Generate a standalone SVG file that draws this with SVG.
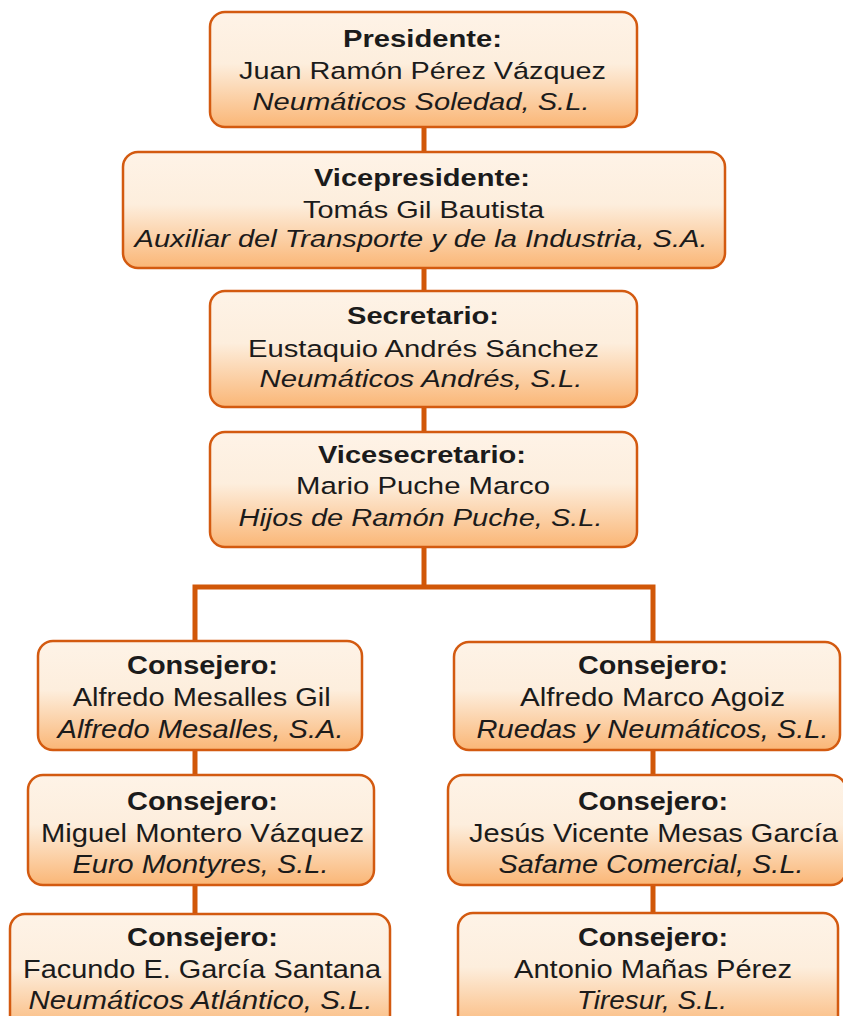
<svg xmlns="http://www.w3.org/2000/svg" width="843" height="1016" viewBox="0 0 843 1016">
  <defs>
    <linearGradient id="fillGrad" x1="0" y1="0" x2="0" y2="1">
      <stop offset="0" stop-color="#fef3e7"/>
      <stop offset="0.45" stop-color="#fdeedd"/>
      <stop offset="1" stop-color="#fab676"/>
    </linearGradient>
    <style>
      .box { fill: url(#fillGrad); stroke: #d35a10; stroke-width: 2.5; }
      .conn { fill: none; stroke: #d15708; stroke-width: 5; stroke-linejoin: miter; }
      text { font-family: "Liberation Sans", Arial, sans-serif; fill: #1b1b1b; text-anchor: middle; }
      .t { font-size: 24.5px; }
      .b { font-size: 26.5px; }
      .hd { font-weight: bold; }
      .it { font-style: italic; }
    </style>
  </defs>
  <rect width="843" height="1016" fill="#ffffff"/>

  <g id="connectors">
    <path class="conn" d="M424 128 V587"/>
    <path class="conn" d="M195 641 V587 H653 V641"/>
    <path class="conn" d="M195 750 V914"/>
    <path class="conn" d="M653 750 V913"/>
  </g>

  <g id="presidente">
    <rect class="box" x="210" y="12" width="427" height="115" rx="15"/>
    <text class="t hd" x="422.5" y="47" textLength="159" lengthAdjust="spacingAndGlyphs">Presidente:</text>
    <text class="t" x="422.5" y="79" textLength="367" lengthAdjust="spacingAndGlyphs">Juan Ramón Pérez Vázquez</text>
    <text class="t it" x="421" y="110" textLength="337" lengthAdjust="spacingAndGlyphs">Neumáticos Soledad, S.L.</text>
  </g>

  <g id="vicepresidente">
    <rect class="box" x="123" y="152" width="602" height="116" rx="15"/>
    <text class="t hd" x="422" y="186" textLength="216" lengthAdjust="spacingAndGlyphs">Vicepresidente:</text>
    <text class="t" x="423.5" y="218" textLength="241" lengthAdjust="spacingAndGlyphs">Tomás Gil Bautista</text>
    <text class="t it" x="421" y="247" textLength="573" lengthAdjust="spacingAndGlyphs">Auxiliar del Transporte y de la Industria, S.A.</text>
  </g>

  <g id="secretario">
    <rect class="box" x="210" y="291" width="427" height="116" rx="15"/>
    <text class="t hd" x="423" y="324" textLength="152" lengthAdjust="spacingAndGlyphs">Secretario:</text>
    <text class="t" x="423.5" y="357" textLength="351" lengthAdjust="spacingAndGlyphs">Eustaquio Andrés Sánchez</text>
    <text class="t it" x="421" y="387" textLength="323" lengthAdjust="spacingAndGlyphs">Neumáticos Andrés, S.L.</text>
  </g>

  <g id="vicesecretario">
    <rect class="box" x="210" y="432" width="427" height="115" rx="15"/>
    <text class="t hd" x="422" y="463" textLength="208" lengthAdjust="spacingAndGlyphs">Vicesecretario:</text>
    <text class="t" x="423" y="494" textLength="254" lengthAdjust="spacingAndGlyphs">Mario Puche Marco</text>
    <text class="t it" x="420.5" y="526" textLength="364" lengthAdjust="spacingAndGlyphs">Hijos de Ramón Puche, S.L.</text>
  </g>

  <g id="consejero-l1">
    <rect class="box" x="38" y="641" width="324" height="109" rx="15"/>
    <text class="b hd" x="202.5" y="674" textLength="151" lengthAdjust="spacingAndGlyphs">Consejero:</text>
    <text class="b" x="201.7" y="706" textLength="258" lengthAdjust="spacingAndGlyphs">Alfredo Mesalles Gil</text>
    <text class="b it" x="200.5" y="738" textLength="286" lengthAdjust="spacingAndGlyphs">Alfredo Mesalles, S.A.</text>
  </g>

  <g id="consejero-r1">
    <rect class="box" x="454" y="642" width="386" height="108" rx="15"/>
    <text class="b hd" x="653" y="674" textLength="150" lengthAdjust="spacingAndGlyphs">Consejero:</text>
    <text class="b" x="652.5" y="706" textLength="265" lengthAdjust="spacingAndGlyphs">Alfredo Marco Agoiz</text>
    <text class="b it" x="652.5" y="738" textLength="352" lengthAdjust="spacingAndGlyphs">Ruedas y Neumáticos, S.L.</text>
  </g>

  <g id="consejero-l2">
    <rect class="box" x="28" y="775" width="346" height="110" rx="15"/>
    <text class="b hd" x="202.5" y="810" textLength="151" lengthAdjust="spacingAndGlyphs">Consejero:</text>
    <text class="b" x="202.5" y="842" textLength="323" lengthAdjust="spacingAndGlyphs">Miguel Montero Vázquez</text>
    <text class="b it" x="200.5" y="873" textLength="256" lengthAdjust="spacingAndGlyphs">Euro Montyres, S.L.</text>
  </g>

  <g id="consejero-r2">
    <rect class="box" x="448" y="775" width="398" height="110" rx="15"/>
    <text class="b hd" x="653" y="810" textLength="150" lengthAdjust="spacingAndGlyphs">Consejero:</text>
    <text class="b" x="653.5" y="842" textLength="369" lengthAdjust="spacingAndGlyphs">Jesús Vicente Mesas García</text>
    <text class="b it" x="651" y="873" textLength="305" lengthAdjust="spacingAndGlyphs">Safame Comercial, S.L.</text>
  </g>

  <g id="consejero-l3">
    <rect class="box" x="10" y="914" width="380" height="120" rx="15"/>
    <text class="b hd" x="202.5" y="946" textLength="151" lengthAdjust="spacingAndGlyphs">Consejero:</text>
    <text class="b" x="202" y="978" textLength="358" lengthAdjust="spacingAndGlyphs">Facundo E. García Santana</text>
    <text class="b it" x="200.5" y="1009" textLength="344" lengthAdjust="spacingAndGlyphs">Neumáticos Atlántico, S.L.</text>
  </g>

  <g id="consejero-r3">
    <rect class="box" x="458" y="913" width="380" height="120" rx="15"/>
    <text class="b hd" x="653" y="946" textLength="150" lengthAdjust="spacingAndGlyphs">Consejero:</text>
    <text class="b" x="653" y="978" textLength="278" lengthAdjust="spacingAndGlyphs">Antonio Mañas Pérez</text>
    <text class="b it" x="652" y="1009" textLength="150" lengthAdjust="spacingAndGlyphs">Tiresur, S.L.</text>
  </g>
</svg>
